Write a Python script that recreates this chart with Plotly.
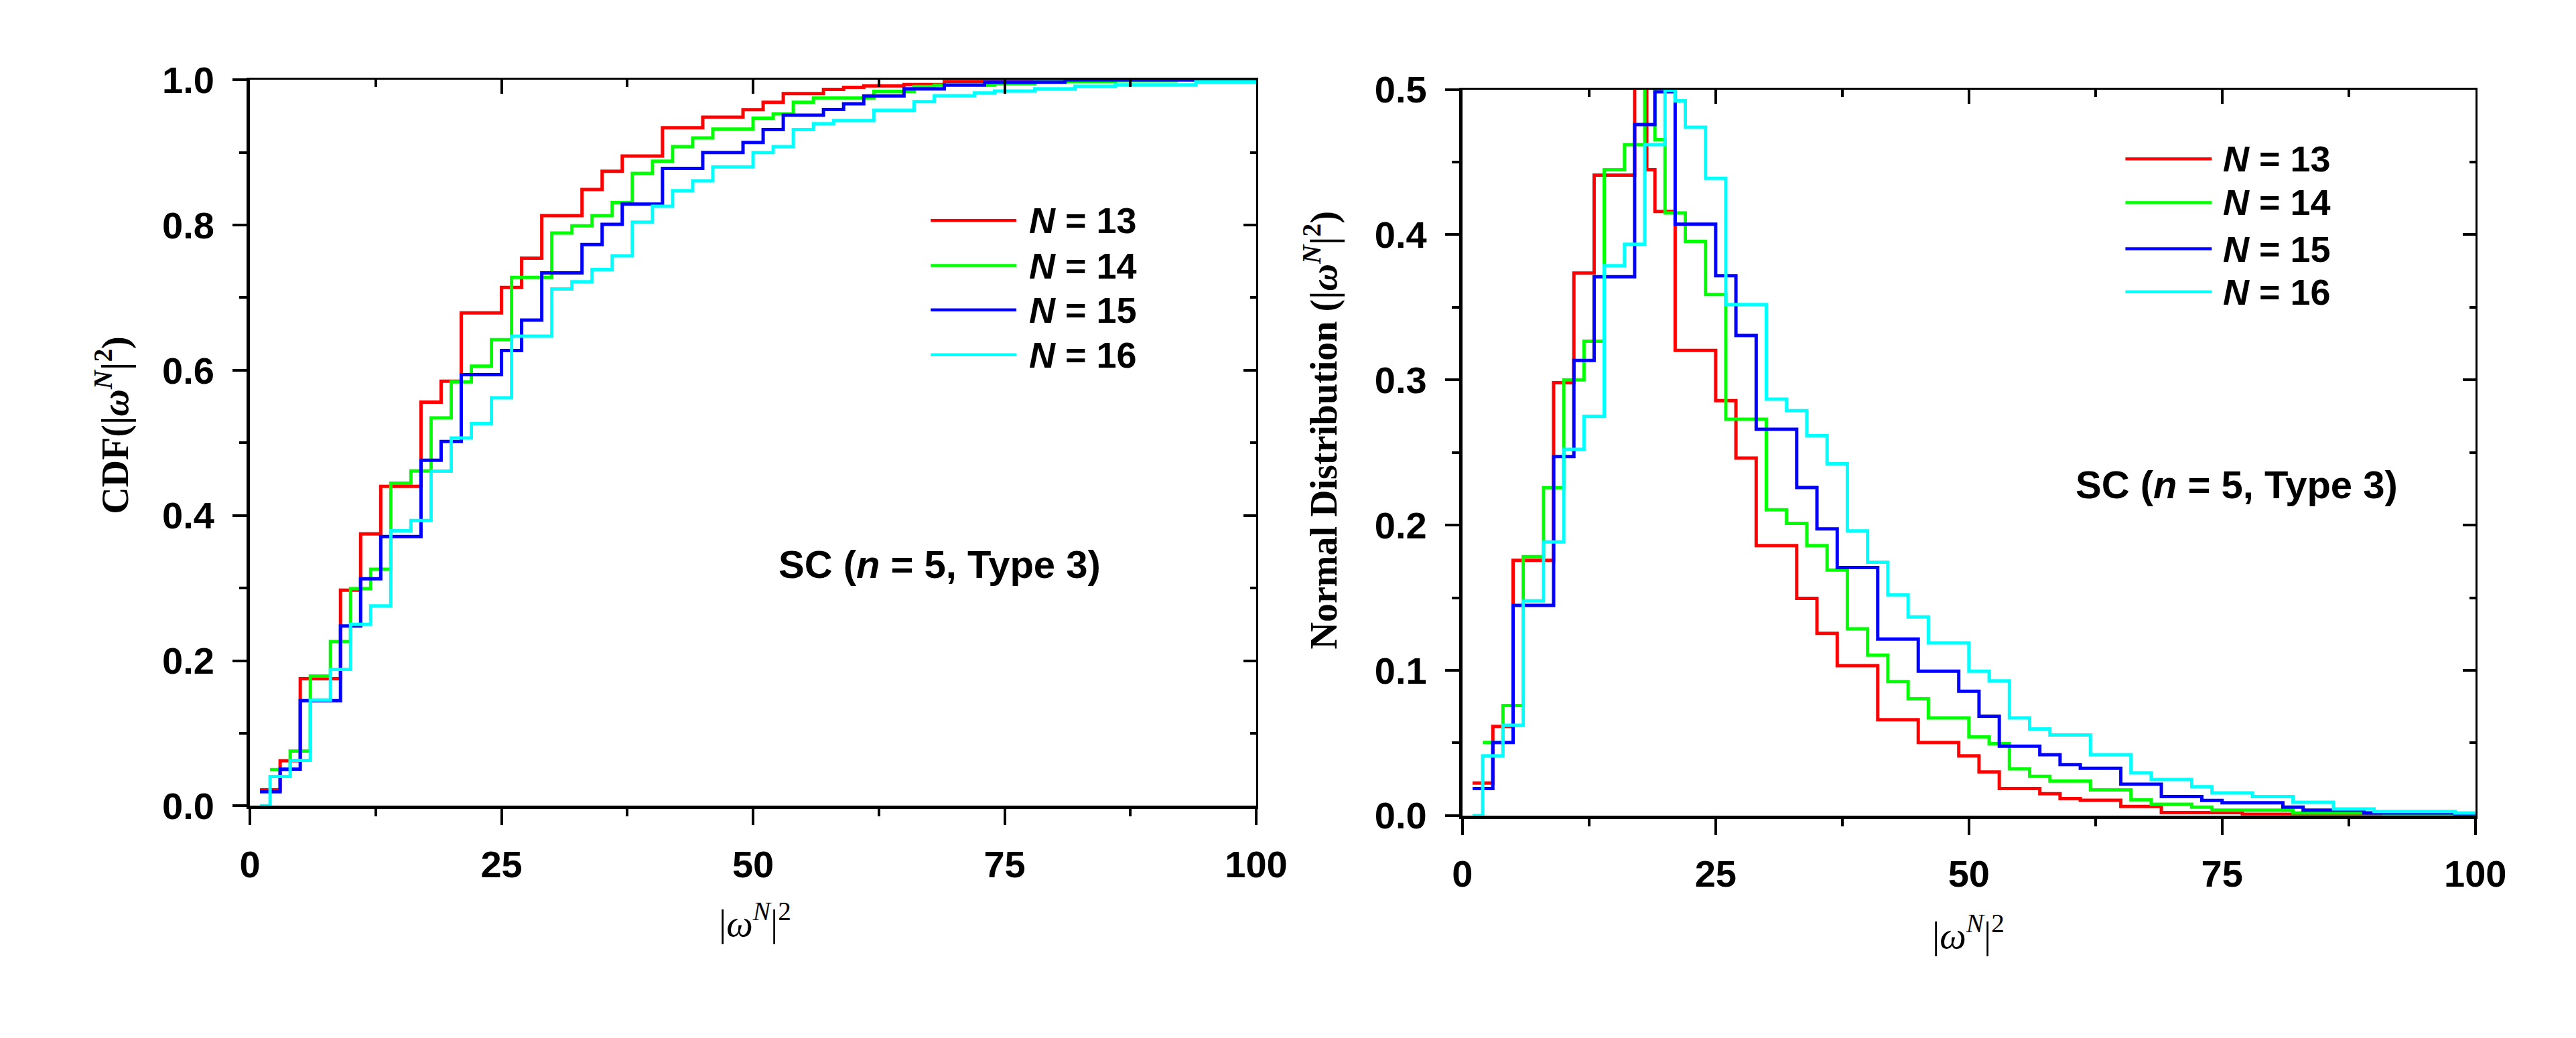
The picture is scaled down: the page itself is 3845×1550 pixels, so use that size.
import plotly.graph_objects as go

W, H = 3845, 1550

# ---------------- data ----------------
series_labels = ["13", "14", "15", "16"]
series_colors = ["#FF0000", "#00FF00", "#0000FF", "#00FFFF"]

x_ticks = [0, 25, 50, 75, 100]

# Left: CDF step curves (left bin edge, value)
cdf13_x = [1, 3, 5, 9, 11, 13, 17, 19, 21, 25, 27, 29, 33, 35, 37, 41, 45, 49, 51, 53, 57, 59, 61, 65, 69, 77, 100]
cdf13_y = [0.022, 0.062, 0.175, 0.297, 0.3745, 0.44, 0.556, 0.585, 0.679, 0.714, 0.7545, 0.813, 0.849, 0.874,
           0.895, 0.934, 0.9485, 0.959, 0.969, 0.981, 0.9868, 0.9896, 0.9916, 0.9936, 0.998, 1.0, 1.0]

cdf14_x = [2, 4, 6, 8, 10, 12, 14, 16, 18, 20, 22, 24, 26, 30, 32, 34, 36, 38, 40, 42, 44, 46, 50, 52, 54, 56,
           62, 66, 68, 74, 78, 86, 92, 100]
cdf14_y = [0.05, 0.0754, 0.1788, 0.2263, 0.2992, 0.326, 0.4444, 0.4614, 0.5345, 0.584, 0.6056, 0.642, 0.728,
           0.789, 0.799, 0.813, 0.831, 0.871, 0.888, 0.908, 0.92, 0.9323, 0.9473, 0.9533, 0.969, 0.975, 0.984,
           0.9908, 0.9927, 0.9948, 0.9975, 0.9992, 1.0, 1.0]

cdf15_x = [1, 3, 5, 9, 11, 13, 17, 19, 21, 25, 27, 29, 33, 35, 37, 41, 45, 49, 51, 53, 57, 59, 61, 65, 69, 73, 81, 100]
cdf15_y = [0.0195, 0.0506, 0.145, 0.2477, 0.3128, 0.371, 0.476, 0.5018, 0.5938, 0.627, 0.669, 0.734, 0.773,
           0.801, 0.829, 0.878, 0.9, 0.9137, 0.9315, 0.9513, 0.9592, 0.9671, 0.9778, 0.9876, 0.9928, 0.9968,
           1.0, 1.0]

cdf16_x = [1, 2, 4, 6, 8, 10, 12, 14, 16, 18, 20, 22, 24, 26, 30, 32, 34, 36, 38, 40, 42, 44, 46, 50, 52, 54,
           56, 58, 62, 66, 68, 72, 74, 78, 82, 86, 94, 100]
cdf16_y = [0.0, 0.0405, 0.0626, 0.1459, 0.188, 0.25, 0.2755, 0.379, 0.393, 0.461, 0.5068, 0.5266, 0.562, 0.647,
           0.712, 0.722, 0.7387, 0.7577, 0.804, 0.826, 0.8474, 0.861, 0.88, 0.9, 0.908, 0.9315, 0.9395, 0.944,
           0.958, 0.97, 0.978, 0.982, 0.9845, 0.9875, 0.991, 0.993, 0.997, 0.997]

# Right: distribution step curves (left bin edge, value)
nd13_x = [1, 3, 5, 9, 11, 13, 17, 18.2, 19, 21, 25, 27, 29, 33, 35, 37, 41, 45, 49, 51, 53, 57, 59, 61, 65, 69,
          77, 86, 100]
nd13_y = [0.0223, 0.0613, 0.1757, 0.298, 0.3736, 0.441, 0.54, 0.4447, 0.416, 0.3203, 0.2857, 0.2462, 0.1859,
          0.1495, 0.1254, 0.1032, 0.0659, 0.0503, 0.041, 0.030, 0.0186, 0.015, 0.0116, 0.0105, 0.0062, 0.002,
          0.0008, 0.0, 0.0]

nd14_x = [2, 4, 6, 8, 10, 12, 14, 16, 18, 19, 20, 22, 24, 26, 30, 32, 34, 36, 38, 40, 42, 44, 46, 50, 52, 54,
          56, 58, 62, 66, 68, 72, 74, 82, 91, 100]
nd14_y = [0.0503, 0.0757, 0.1783, 0.2257, 0.30, 0.3266, 0.4447, 0.462, 0.53, 0.4655, 0.415, 0.3954, 0.3588,
          0.2729, 0.2105, 0.2012, 0.1859, 0.169, 0.1286, 0.1105, 0.0922, 0.0803, 0.0672, 0.0542, 0.0494, 0.0321,
          0.027, 0.0237, 0.0176, 0.0108, 0.0077, 0.0058, 0.0037, 0.0017, 0.0, 0.0]

nd15_x = [1, 3, 5, 9, 11, 13, 17, 19, 21, 25, 27, 29, 33, 35, 37, 41, 45, 49, 51, 53, 57, 59, 61, 65, 69, 73,
          75, 81, 83, 89, 98, 100]
nd15_y = [0.0186, 0.0503, 0.1447, 0.2472, 0.3134, 0.371, 0.4758, 0.4985, 0.4072, 0.3717, 0.3306, 0.266, 0.2259,
          0.1974, 0.1707, 0.1215, 0.0994, 0.0855, 0.0684, 0.0477, 0.0418, 0.035, 0.0325, 0.0215, 0.013, 0.0104,
          0.0088, 0.0058, 0.0037, 0.0017, 0.0008, 0.0008]

nd16_x = [1, 2, 4, 6, 8, 10, 12, 14, 16, 18, 20, 21, 22, 24, 26, 30, 32, 34, 36, 38, 40, 42, 44, 46, 50, 52, 54,
          56, 58, 62, 66, 68, 72, 74, 78, 82, 86, 90, 98, 100]
nd16_y = [0.0, 0.041, 0.0621, 0.1478, 0.1884, 0.2522, 0.2749, 0.3786, 0.3934, 0.462, 0.4995, 0.4922, 0.474,
          0.4388, 0.3519, 0.2867, 0.2788, 0.2616, 0.2423, 0.196, 0.1744, 0.152, 0.1367, 0.1189, 0.0994, 0.0927,
          0.0672, 0.0596, 0.0554, 0.0418, 0.0294, 0.0248, 0.0198, 0.0155, 0.013, 0.0091, 0.0045, 0.0028, 0.0017,
          0.0017]

cdf_series = [(cdf13_x, cdf13_y), (cdf14_x, cdf14_y), (cdf15_x, cdf15_y), (cdf16_x, cdf16_y)]
nd_series = [(nd13_x, nd13_y), (nd14_x, nd14_y), (nd15_x, nd15_y), (nd16_x, nd16_y)]

# ---------------- helpers ----------------
def px(xp):
    return xp / W

def py(yp):
    return 1 - yp / H

SANS = "Liberation Sans"
SERIF = "Liberation Serif"
LINE_W = 5

fig = go.Figure()

for (xs, ys), lab, col in zip(cdf_series, series_labels, series_colors):
    fig.add_trace(go.Scatter(x=xs, y=ys, mode="lines", line=dict(color=col, width=LINE_W, shape="hv"),
                             name="N = " + lab, showlegend=False, xaxis="x", yaxis="y"))
for (xs, ys), lab, col in zip(nd_series, series_labels, series_colors):
    fig.add_trace(go.Scatter(x=xs, y=ys, mode="lines", line=dict(color=col, width=LINE_W, shape="hv"),
                             name="N = " + lab, showlegend=False, xaxis="x2", yaxis="y2"))

# empty traces so the mirrored (top / right) axes get drawn
for xa, ya in [("x3", "y"), ("x", "y3"), ("x4", "y2"), ("x2", "y4")]:
    fig.add_trace(go.Scatter(x=[], y=[], xaxis=xa, yaxis=ya, showlegend=False, hoverinfo="skip"))

tickfont = dict(family=SANS, size=56, color="black", weight="bold")

L_X = [px(363), px(1890)]
L_Y = [py(1222), py(92)]
R_X = [px(2203), px(3740)]
R_Y = [py(1237), py(107)]


def bottom_axis(domain, anchor):
    return dict(domain=domain, anchor=anchor, range=[0, 100], tickvals=x_ticks, ticks="outside", ticklen=24,
                tickwidth=4, tickcolor="black", showline=True, linewidth=5, linecolor="black",
                showgrid=False, zeroline=False, tickfont=tickfont, ticklabelstandoff=10,
                minor=dict(dtick=12.5, tick0=0, ticks="outside", ticklen=11, tickwidth=4, tickcolor="black",
                           showgrid=False))


def top_axis(overlay, anchor):
    return dict(overlaying=overlay, anchor=anchor, side="top", range=[0, 100], tickvals=x_ticks, ticks="inside",
                ticklen=21, tickwidth=4, tickcolor="black", showline=True, linewidth=3, linecolor="black",
                showgrid=False, zeroline=False, showticklabels=False,
                minor=dict(dtick=12.5, tick0=0, ticks="inside", ticklen=11, tickwidth=4, tickcolor="black",
                           showgrid=False))


def left_axis(domain, anchor, rng, dtick, mdtick):
    return dict(domain=domain, anchor=anchor, range=rng, dtick=dtick, tick0=0, tickformat=".1f",
                ticks="outside", ticklen=21, tickwidth=4, tickcolor="black", showline=True, linewidth=5,
                linecolor="black", showgrid=False, zeroline=False, tickfont=tickfont, ticklabelstandoff=16,
                minor=dict(dtick=mdtick, tick0=0, ticks="outside", ticklen=11, tickwidth=4, tickcolor="black",
                           showgrid=False))


def right_axis(overlay, anchor, rng, dtick, mdtick):
    return dict(overlaying=overlay, anchor=anchor, side="right", range=rng, dtick=dtick, tick0=0,
                ticks="inside", ticklen=19, tickwidth=4, tickcolor="black", showline=True, linewidth=3,
                linecolor="black", showgrid=False, zeroline=False, showticklabels=False,
                minor=dict(dtick=mdtick, tick0=0, ticks="inside", ticklen=9, tickwidth=4, tickcolor="black",
                           showgrid=False))


fig.update_layout(
    width=W, height=H, margin=dict(l=0, r=0, t=0, b=0),
    paper_bgcolor="white", plot_bgcolor="white", showlegend=False,
    xaxis=bottom_axis(L_X, "y"),
    yaxis=left_axis(L_Y, "x", [0, 1], 0.2, 0.1),
    xaxis3=top_axis("x", "y"),
    yaxis3=right_axis("y", "x", [0, 1], 0.2, 0.1),
    xaxis2=bottom_axis(R_X, "y2"),
    yaxis2=left_axis(R_Y, "x2", [0, 0.5], 0.1, 0.05),
    xaxis4=top_axis("x2", "y2"),
    yaxis4=right_axis("y2", "x2", [0, 0.5], 0.1, 0.05),
)

annotations = []
shapes = []

# axis titles
xtitle = "|<i>ω</i><sup><i>N</i></sup>|<sup>2</sup>"
annotations.append(dict(x=px(1130), y=py(1400), xref="paper", yref="paper", text=xtitle, showarrow=False,
                        font=dict(family=SERIF, size=56, color="black"), xanchor="center", yanchor="middle"))
annotations.append(dict(x=px(2971), y=py(1419), xref="paper", yref="paper", text=xtitle, showarrow=False,
                        font=dict(family=SERIF, size=56, color="black"), xanchor="center", yanchor="middle"))
annotations.append(dict(x=px(155), y=py(630), xref="paper", yref="paper",
                        text="CDF(|<i>ω</i><sup><i>N</i></sup>|<sup>2</sup>)", showarrow=False, textangle=-90,
                        font=dict(family=SERIF, size=56, color="black", weight="bold"),
                        xanchor="center", yanchor="middle"))
annotations.append(dict(x=px(1989), y=py(637), xref="paper", yref="paper",
                        text="Normal Distribution (|<i>ω</i><sup><i>N</i></sup>|<sup>2</sup>)", showarrow=False,
                        textangle=-90, font=dict(family=SERIF, size=56, color="black", weight="bold"),
                        xanchor="center", yanchor="middle"))

# panel labels
sc_text = "SC (<i>n</i> = 5, Type 3)"
annotations.append(dict(x=px(1410), y=py(846), xref="paper", yref="paper", text=sc_text, showarrow=False,
                        font=dict(family=SANS, size=58, color="black", weight="bold"),
                        xanchor="center", yanchor="middle"))
annotations.append(dict(x=px(3378), y=py(722), xref="paper", yref="paper", text=sc_text, showarrow=False,
                        font=dict(family=SANS, size=58, color="black", weight="bold"),
                        xanchor="center", yanchor="middle"))

# legends (drawn as key lines + labels)
legend_specs = [
    dict(x0=1396, x1=1526, tx=1543, rows=[311, 381, 450, 520]),
    dict(x0=3209, x1=3340, tx=3355, rows=[215, 283, 355, 422]),
]
for spec in legend_specs:
    for lab, col, ry in zip(series_labels, series_colors, spec["rows"]):
        shapes.append(dict(type="line", xref="paper", yref="paper", x0=px(spec["x0"]), x1=px(spec["x1"]),
                           y0=py(ry), y1=py(ry), line=dict(color=col, width=4.5)))
        annotations.append(dict(x=px(spec["tx"]), y=py(ry), xref="paper", yref="paper",
                                text="<i>N</i> = " + lab, showarrow=False,
                                font=dict(family=SANS, size=54, color="black", weight="bold"),
                                xanchor="left", yanchor="middle"))

fig.update_layout(annotations=annotations, shapes=shapes)

fig.write_html("out.html")
